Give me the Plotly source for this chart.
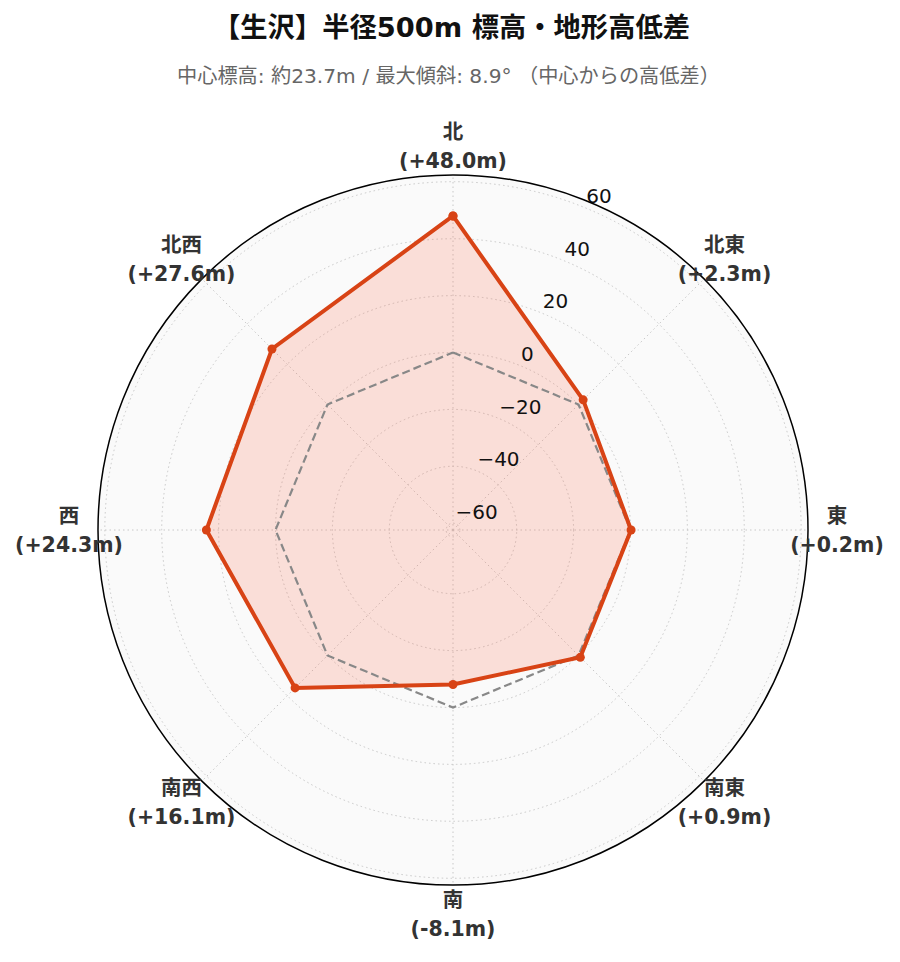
import plotly.graph_objects as go

directions = ["北", "北東", "東", "南東", "南", "南西", "西", "北西"]
diffs = [48.0, 2.3, 0.2, 0.9, -8.1, 16.1, 24.3, 27.6]
reference = [0, 0, 0, 0, 0, 0, 0, 0]
radial_ticks = [-60, -40, -20, 0, 20, 40, 60]

n = len(directions)
angles = [i * 360 / n for i in range(n)]
value_labels = [f"({v:+.1f}m)" for v in diffs]
tick_text = [f"{t}".replace("-", "\u2212") for t in radial_ticks]

lim = max(abs(v) for v in diffs) * 1.3

FONT = "DejaVu Sans, Noto Sans CJK JP, sans-serif"

# page geometry (figure pixels; the page adds an 8px body margin)
W, H = 892, 954
CX, CY, R = 445, 522, 355       # main polar centre / radius
R2 = 420                        # label polar radius
LABEL_R = 384                   # label ring radius in px (on label polar)

fig = go.Figure()
# filled area (drawn first so the reference line sits on top of it)
fig.add_trace(go.Scatterpolar(
    r=diffs + [diffs[0]], theta=angles + [angles[0]], mode="lines",
    line=dict(width=0, color="rgba(0,0,0,0)"),
    fill="toself", fillcolor="rgba(252,110,80,0.2)",
    hoverinfo="skip", showlegend=False,
))
fig.add_trace(go.Scatterpolar(
    r=reference + [reference[0]], theta=angles + [angles[0]], mode="lines",
    line=dict(color="#888888", width=2.2, dash="8px,4px"),
    hoverinfo="skip", showlegend=False,
))
fig.add_trace(go.Scatterpolar(
    r=diffs + [diffs[0]], theta=angles + [angles[0]], mode="lines+markers",
    line=dict(color="#d84315", width=4),
    marker=dict(color="#d84315", size=9),
    showlegend=False,
))
# radial tick labels at 22.5 degrees
fig.add_trace(go.Scatterpolar(
    r=radial_ticks, theta=[22.5] * len(radial_ticks), mode="text", text=tick_text,
    textposition="top right", cliponaxis=False,
    textfont=dict(size=20, color="#111", family=FONT),
    hoverinfo="skip", showlegend=False,
))
# direction names (upper line) and values (lower line) on the label polar
fig.add_trace(go.Scatterpolar(
    r=[LABEL_R] * n, theta=angles, mode="markers+text", text=directions,
    textposition="top center", subplot="polar2",
    marker=dict(size=1, opacity=0),
    textfont=dict(size=20.5, color="#333", family=FONT, weight="bold"),
    hoverinfo="skip", showlegend=False,
))
fig.add_trace(go.Scatterpolar(
    r=[LABEL_R] * n, theta=angles, mode="markers+text", text=value_labels,
    textposition="bottom center", subplot="polar2",
    marker=dict(size=9.3, opacity=0),
    textfont=dict(size=20.5, color="#333", family=FONT, weight="bold"),
    hoverinfo="skip", showlegend=False,
))

fig.update_layout(
    width=W, height=H,
    paper_bgcolor="white",
    font=dict(family=FONT, color="#222"),
    title=dict(
        text="<b>【生沢】半径500m 標高・地形高低差</b>",
        x=443.5 / W, xanchor="center", xref="container",
        y=1 - 19 / H, yanchor="middle", yref="container",
        font=dict(size=27.3, color="#111", family=FONT),
    ),
    annotations=[dict(
        text="中心標高: 約23.7m / 最大傾斜: 8.9° （中心からの高低差）",
        x=440.5 / W, xref="paper", xanchor="center",
        y=1 - 68 / H, yref="paper", yanchor="middle",
        showarrow=False, font=dict(size=20.2, color="#666", family=FONT),
    )],
    margin=dict(l=0, r=0, t=0, b=0),
    polar=dict(
        domain=dict(x=[(CX - R) / W, (CX + R) / W],
                    y=[(H - CY - R) / H, (H - CY + R) / H]),
        bgcolor="#fafafa",
        angularaxis=dict(
            rotation=90, direction="clockwise", thetaunit="degrees",
            tickvals=angles, showticklabels=False, ticks="",
            showline=True, linecolor="black", linewidth=1.5,
            gridcolor="#c8c8c8", griddash="1.5px,3px", gridwidth=1,
        ),
        radialaxis=dict(
            range=[-lim, lim], tickvals=radial_ticks, showticklabels=False,
            angle=22.5, showline=False, ticks="",
            gridcolor="#c8c8c8", griddash="1.5px,3px", gridwidth=1,
        ),
    ),
    polar2=dict(
        domain=dict(x=[(CX - R2) / W, (CX + R2) / W],
                    y=[(H - CY - R2) / H, (H - CY + R2) / H]),
        bgcolor="rgba(0,0,0,0)",
        angularaxis=dict(rotation=90, direction="clockwise", thetaunit="degrees",
                         visible=False),
        radialaxis=dict(range=[0, R2], visible=False),
    ),
)
fig.write_html("out.html")
